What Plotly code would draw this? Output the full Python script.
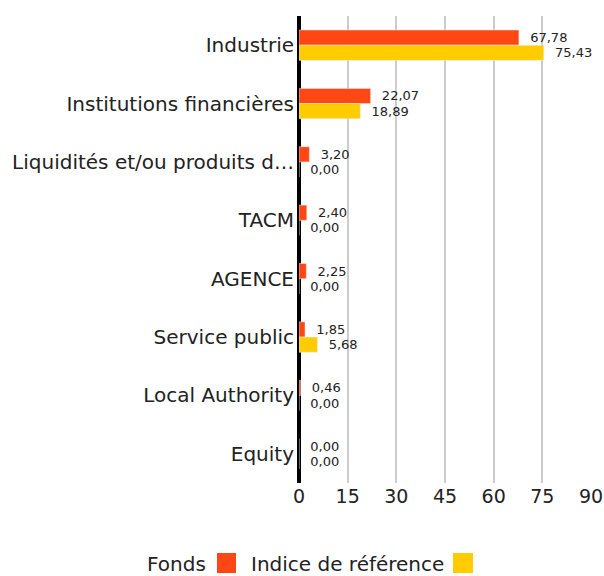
import plotly.graph_objects as go

categories = ["Industrie", "Institutions financières", "Liquidités et/ou produits d…",
              "TACM", "AGENCE", "Service public", "Local Authority", "Equity"]
fonds = [67.78, 22.07, 3.20, 2.40, 2.25, 1.85, 0.46, 0.00]
indice = [75.43, 18.89, 0.00, 0.00, 0.00, 5.68, 0.00, 0.00]
x_ticks = [0, 15, 30, 45, 60, 75, 90]

FONT = "DejaVu Sans, Liberation Sans, Arial, sans-serif"
C_FONDS = "#FF4713"
C_INDICE = "#FFCC00"
TXT = "#222222"

FW, FH = 604, 576

fig = go.Figure()
for name, vals, col in [("Fonds", fonds, C_FONDS), ("Indice de référence", indice, C_INDICE)]:
    fig.add_trace(go.Bar(y=categories, x=vals, orientation="h", name=name,
                         marker_color=col, texttemplate="\u00a0\u00a0%{x:.2f}",
                         textposition="outside", constraintext="none",
                         textfont=dict(size=13, color=TXT, family=FONT), cliponaxis=False))

# plot area in page pixels
PL, PR, PT, PB = 299, 591, 16, 483
W, H = PR - PL, PB - PT
def px(x):
    return (x - PL) / W
def py(y):
    return (PB - y) / H

shapes = [
    dict(type="rect", xref="paper", yref="paper", x0=px(217), x1=px(236), y0=py(573), y1=py(553),
         fillcolor=C_FONDS, line_width=0),
    dict(type="rect", xref="paper", yref="paper", x0=px(453), x1=px(473), y0=py(573), y1=py(553),
         fillcolor=C_INDICE, line_width=0),
]
annotations = [
    dict(text="Fonds", xref="paper", yref="paper", x=px(208), y=py(564), xanchor="right",
         yanchor="middle", showarrow=False, font=dict(size=20, color=TXT, family=FONT)),
    dict(text="Indice de référence", xref="paper", yref="paper", x=px(446), y=py(564),
         xanchor="right", yanchor="middle", showarrow=False,
         font=dict(size=20, color=TXT, family=FONT)),
]

fig.update_layout(
    width=FW, height=FH, autosize=False,
    margin=dict(l=PL, r=FW - PR, t=PT, b=FH - PB, pad=0),
    barmode="group", bargap=0.48, bargroupgap=0,
    plot_bgcolor="white", paper_bgcolor="white",
    separators=", ",
    showlegend=False,
    font=dict(family=FONT, color=TXT),
    shapes=shapes, annotations=annotations,
    xaxis=dict(range=[0, 90], tickvals=x_ticks, showgrid=True, gridcolor="#cccccc", gridwidth=2,
               zeroline=True, zerolinecolor="black", zerolinewidth=4, ticklabeloverflow="allow",
               automargin=False,
               tickfont=dict(size=19, color=TXT, family=FONT), showline=False, ticks=""),
    yaxis=dict(autorange="reversed", tickfont=dict(size=20, color=TXT, family=FONT), ticks="",
               ticklabelstandoff=4, showgrid=False, automargin=False),
)

post = "document.body.style.margin='0';document.body.style.overflow='hidden';"
fig.write_html("out.html", post_script=post,
               config={"responsive": False, "displayModeBar": False})
